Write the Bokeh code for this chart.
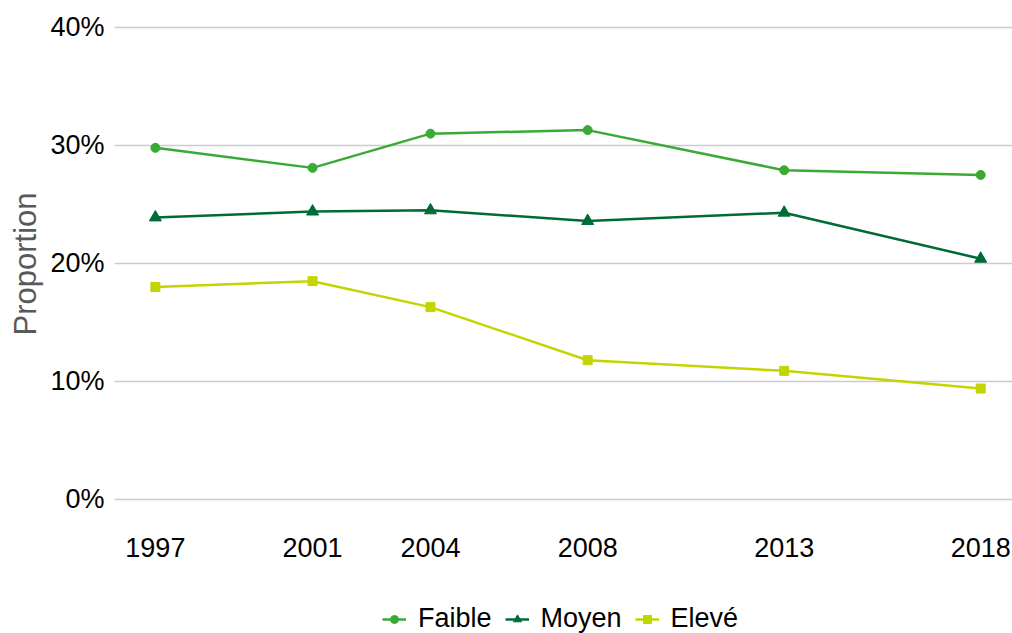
from bokeh.plotting import figure
from bokeh.models import FixedTicker, NumeralTickFormatter, Range1d, Legend, LegendItem, Title
from bokeh.embed import file_html
from bokeh.resources import INLINE

years = [1997, 2001, 2004, 2008, 2013, 2018]
faible = [0.298, 0.281, 0.310, 0.313, 0.279, 0.275]
moyen = [0.239, 0.244, 0.245, 0.236, 0.243, 0.204]
eleve = [0.180, 0.185, 0.163, 0.118, 0.109, 0.094]
y_ticks = [0.0, 0.1, 0.2, 0.3, 0.4]

c_f = "#3aaa35"
c_m = "#006b35"
c_e = "#c2d500"
FONT = "Liberation Sans"

p = figure(width=1012, height=633, output_backend="svg", toolbar_location=None,
           x_range=Range1d(1995.96, 2018.81), y_range=Range1d(-0.1136, 0.4059),
           min_border_left=112, min_border_right=0, min_border_top=20, min_border_bottom=0)
p.outline_line_color = None
p.background_fill_color = "white"
p.border_fill_color = "white"

rf = p.line(years, faible, line_color=c_f, line_width=2.5)
sf = p.scatter(years, faible, marker="circle", size=9, fill_color=c_f, line_color=c_f)
rm = p.line(years, moyen, line_color=c_m, line_width=2.5)
sm = p.scatter(years, moyen, marker="triangle", size=12, fill_color=c_m, line_color=c_m)
re = p.line(years, eleve, line_color=c_e, line_width=2.5)
se = p.scatter(years, eleve, marker="square", size=9, fill_color=c_e, line_color=c_e)

p.xaxis.ticker = FixedTicker(ticks=years)
p.xaxis.fixed_location = 0
p.yaxis.ticker = FixedTicker(ticks=y_ticks)
p.yaxis.formatter = NumeralTickFormatter(format="0%")
for ax in (p.xaxis[0], p.yaxis[0]):
    ax.axis_line_color = None
    ax.major_tick_line_color = None
    ax.minor_tick_line_color = None
    ax.major_tick_out = 0
    ax.major_tick_in = 0
    ax.minor_tick_out = 0
    ax.major_label_text_font = FONT
    ax.major_label_text_font_size = "27px"
    ax.major_label_text_color = "black"
p.xaxis.major_label_standoff = 39
p.yaxis.major_label_standoff = 10

ytitle = Title(text="Proportion", text_font=FONT, text_font_size="31px",
               text_font_style="normal", text_color="#595959",
               align="left", offset=298, standoff=10)
p.add_layout(ytitle, "left")

p.xgrid.grid_line_color = None
p.ygrid.grid_line_color = "#cccccc"
p.ygrid.grid_line_width = 1.5

legend = Legend(items=[LegendItem(label="Faible", renderers=[rf, sf]),
                       LegendItem(label="Moyen", renderers=[rm, sm]),
                       LegendItem(label="Elevé", renderers=[re, se])],
                orientation="horizontal", location=(268, -1),
                label_text_font=FONT, label_text_font_size="27px",
                label_text_color="black", border_line_color=None,
                background_fill_alpha=0, glyph_width=24, spacing=13,
                label_standoff=12, margin=0, padding=0)
p.add_layout(legend, "center")

open("out.html", "w").write(file_html(p, INLINE))
